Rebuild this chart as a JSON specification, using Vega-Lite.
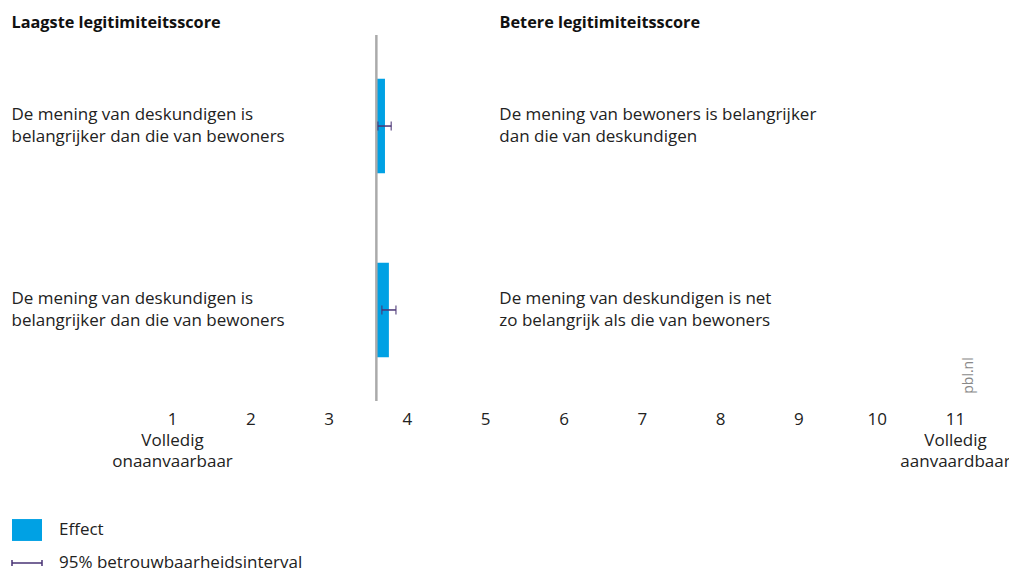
{
  "$schema": "https://vega.github.io/schema/vega-lite/v6.json",
  "width": 783,
  "height": 366,
  "autosize": {"type": "none"},
  "padding": {"left": 172, "top": 35, "right": 54, "bottom": 171},
  "background": "white",
  "config": {
    "view": {"stroke": null},
    "font": "Open Sans",
    "text": {"font": "Open Sans", "fontSize": 17, "color": "#222222"}
  },
  "data": {
    "values": [
      {"id": 1, "beter": "De mening van bewoners is belangrijker|dan die van deskundigen", "effect": 3.72, "lo": 3.63, "hi": 3.80, "reeks": "Effect"},
      {"id": 2, "beter": "De mening van deskundigen is net|zo belangrijk als die van bewoners", "effect": 3.77, "lo": 3.68, "hi": 3.86, "reeks": "Effect"}
    ]
  },
  "layer": [
    {
      "mark": {"type": "bar"},
      "encoding": {
        "y": {
          "field": "beter", "type": "nominal", "sort": null,
          "scale": {"paddingInner": 0.486, "paddingOuter": 0.238},
          "axis": {
            "orient": "left", "domain": false, "ticks": false, "tickSize": 0,
            "labelAlign": "left", "labelPadding": 161, "labelBaseline": "middle",
            "labelOffset": -11,
            "labelFontSize": 17, "labelColor": "#222222", "labelFont": "Open Sans",
            "labelLineHeight": 22, "labelLimit": 0,
            "labelExpr": "['De mening van deskundigen is', 'belangrijker dan die van bewoners']",
            "title": "Laagste legitimiteitsscore", "titleAngle": 0, "titleX": -161, "titleY": -13,
            "titleAlign": "left", "titleBaseline": "middle", "titleFontSize": 16.3,
            "titleFontWeight": "bold", "titleColor": "#111111", "titleFont": "Open Sans"
          }
        },
        "x": {
          "field": "effect", "type": "quantitative",
          "scale": {"domain": [1, 11], "nice": false, "zero": false},
          "axis": {
            "orient": "bottom", "domain": false, "ticks": false, "tickSize": 0, "grid": false,
            "values": [1, 2, 3, 4, 5, 6, 7, 8, 9, 10, 11],
            "labelFlush": false, "labelOverlap": false, "labelBound": false,
            "labelPadding": 10, "labelBaseline": "top", "labelFontSize": 17, "labelLineHeight": 21,
            "labelColor": "#222222", "labelFont": "Open Sans",
            "labelExpr": "datum.value == 1 ? ['1', 'Volledig', 'onaanvaarbaar'] : datum.value == 11 ? ['11', 'Volledig', 'aanvaardbaar'] : datum.label",
            "title": null
          }
        },
        "x2": {"datum": 3.61},
        "color": {
          "field": "reeks", "type": "nominal",
          "scale": {"domain": ["Effect", "95% betrouwbaarheidsinterval"], "range": ["#00a1e4", "#4a3475"]},
          "legend": {
            "orient": "none", "legendX": -161, "legendY": 479, "title": null,
            "symbolSize": 900, "labelFontSize": 17, "labelFont": "Open Sans", "labelColor": "#222222",
            "labelOffset": 16, "rowPadding": 3, "labelLimit": 0,
            "encode": {
              "symbols": {
                "update": {
                  "shape": {"signal": "datum.value === 'Effect' ? 'M-1,-0.73H1V0.73H-1Z' : 'M-1,0H1M-1,-0.2V0.2M1,-0.2V0.2'"},
                  "fill": {"signal": "datum.value === 'Effect' ? '#00a1e4' : 'transparent'"},
                  "stroke": {"signal": "datum.value === 'Effect' ? 'transparent' : '#4a3475'"},
                  "strokeWidth": {"value": 1.5}
                }
              }
            }
          }
        }
      }
    },
    {
      "mark": {"type": "rule", "color": "#aaaaaa", "strokeWidth": 2},
      "encoding": {"x": {"datum": 3.61, "type": "quantitative", "axis": null}}
    },
    {
      "mark": {"type": "rule", "color": "#4a3475", "strokeWidth": 1.5},
      "encoding": {
        "y": {"field": "beter", "type": "nominal", "sort": null, "axis": null},
        "x": {"field": "lo", "type": "quantitative", "axis": null},
        "x2": {"field": "hi"}
      }
    },
    {
      "mark": {"type": "tick", "color": "#4a3475", "thickness": 1.5, "size": 9},
      "encoding": {
        "y": {"field": "beter", "type": "nominal", "sort": null, "axis": null},
        "x": {"field": "lo", "type": "quantitative", "axis": null}
      }
    },
    {
      "mark": {"type": "tick", "color": "#4a3475", "thickness": 1.5, "size": 9},
      "encoding": {
        "y": {"field": "beter", "type": "nominal", "sort": null, "axis": null},
        "x": {"field": "hi", "type": "quantitative", "axis": null}
      }
    },
    {
      "mark": {"type": "text", "align": "left", "baseline": "middle", "lineBreak": "|", "lineHeight": 22, "fontSize": 17, "dy": -11, "color": "#222222"},
      "encoding": {
        "y": {
          "field": "beter", "type": "nominal", "sort": null,
          "axis": {
            "orient": "right", "domain": false, "ticks": false, "labels": false,
            "title": "pbl.nl", "titleAngle": 270, "titleX": 13, "titleY": 340,
            "titleAlign": "center", "titleBaseline": "middle", "titleFontSize": 14,
            "titleFontWeight": "normal", "titleColor": "#888888", "titleFont": "Open Sans"
          }
        },
        "x": {
          "datum": 5.18, "type": "quantitative",
          "axis": {
            "orient": "top", "domain": false, "ticks": false, "labels": false, "grid": false,
            "title": "Betere legitimiteitsscore", "titleX": 327, "titleY": -13,
            "titleAlign": "left", "titleAnchor": "start", "titleBaseline": "middle", "titleFontSize": 16.3,
            "titleFontWeight": "bold", "titleColor": "#111111", "titleFont": "Open Sans"
          }
        },
        "text": {"field": "beter"}
      }
    }
  ],
  "resolve": {"axis": {"x": "independent", "y": "independent"}}
}
